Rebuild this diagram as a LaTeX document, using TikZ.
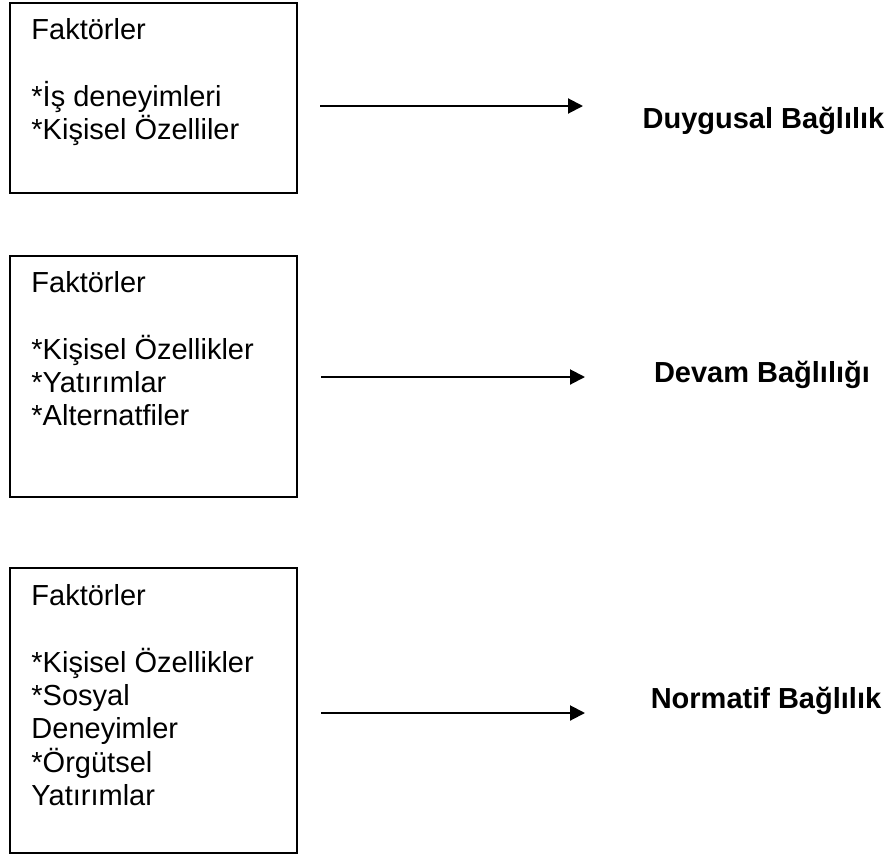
\documentclass[tikz,border=0pt]{standalone}
\usepackage{fontspec}
\setmainfont{Liberation Sans}
\usetikzlibrary{arrows.meta}
\begin{document}
\begin{tikzpicture}[x=0.75pt,y=-0.75pt,
  factorbox/.style={draw, line width=1.2pt, minimum width=215.25pt, inner sep=0pt},
  factortext/.style={anchor=north west, align=left, inner sep=0pt,
    font=\fontsize{21.75pt}{25pt}\selectfont},
  outcome/.style={anchor=base, inner sep=0pt,
    font=\fontsize{21.75pt}{25pt}\selectfont\bfseries},
  flow/.style={line width=1.5pt, -{Triangle[length=11.25pt,width=11.25pt]}}]
\useasboundingbox (0,0) rectangle (892,857);

% factor boxes
\node[factorbox, minimum height=142.5pt]  (b1) at (153.5,98)    {};
\node[factorbox, minimum height=180.75pt] (b2) at (153.5,376.5) {};
\node[factorbox, minimum height=213.75pt] (b3) at (153.5,710.5) {};

% box contents
\node[factortext] (t1) at ([shift={(22,16)}]b1.north west)
  {Faktörler\\[25pt]*İş deneyimleri\\*Kişisel Özelliler};
\node[factortext] (t2) at ([shift={(22,16)}]b2.north west)
  {Faktörler\\[25pt]*Kişisel Özellikler\\*Yatırımlar\\*Alternatfiler};
\node[factortext] (t3) at ([shift={(22,17)}]b3.north west)
  {Faktörler\\[25pt]*Kişisel Özellikler\\*Sosyal\\Deneyimler\\*Örgütsel\\Yatırımlar};

% commitment types
\node[outcome] (l1) at (763.5,128) {Duygusal Bağlılık};
\node[outcome] (l2) at (762,382)   {Devam Bağlılığı};
\node[outcome] (l3) at (766,708)   {Normatif Bağlılık};

% arrows
\coordinate (s1) at (320,106);  \coordinate (e1) at (583,106);
\coordinate (s2) at (321,377);  \coordinate (e2) at (585,377);
\coordinate (s3) at (321,713);  \coordinate (e3) at (585,713);
\draw[flow] (s1) -- (e1);
\draw[flow] (s2) -- (e2);
\draw[flow] (s3) -- (e3);
\end{tikzpicture}
\end{document}
